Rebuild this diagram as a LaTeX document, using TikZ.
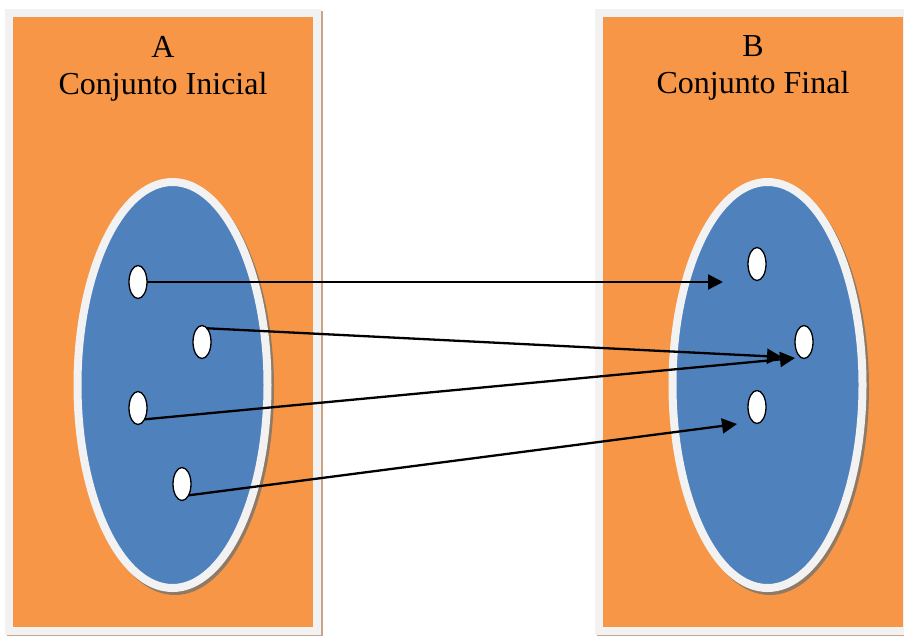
\documentclass[tikz,border=0pt]{standalone}
\usepackage{fontspec}
\setmainfont{Liberation Serif}
\usetikzlibrary{shapes.geometric,arrows.meta,positioning}
\definecolor{setorange}{HTML}{F79646}
\definecolor{setblue}{HTML}{4F81BD}
\definecolor{framegray}{HTML}{F2F2F2}
\definecolor{rectshadow}{HTML}{C9A487}
\definecolor{ovalshadow}{HTML}{8F7A66}

\begin{document}
\begin{tikzpicture}[x=1pt,y=-1pt]
        \tikzstyle{every node}=[inner sep=0pt,outer sep=0pt]
        \tikzstyle{setbox}=[draw=framegray,fill=setorange,line width=8pt,minimum width=308pt,minimum height=618pt]
        \tikzstyle{oval}=[ellipse,draw=framegray,fill=setblue,line width=8pt,minimum width=190pt,minimum height=406pt]
        \tikzstyle{dot}=[ellipse,draw=black,fill=white,line width=1.3pt,minimum width=18pt,minimum height=33pt]
        \tikzstyle{title}=[align=center,font=\fontsize{32}{37}\selectfont]
        \tikzstyle{maps}=[line width=2.3pt,-{Triangle[length=15pt,width=15pt]}]
        \clip (0,0) rectangle (904,635);
        \fill[white] (0,0) rectangle (904,635);

        % shadows
        \node[fill=rectshadow,minimum width=316pt,minimum height=626pt] (shadowA) at (165,324) {};
        \node[fill=rectshadow,minimum width=316pt,minimum height=626pt] (shadowB) at (755,324) {};

        % set A
        \node[setbox] (setA) at (163,322) {};
        \node[title, below=23pt of setA.north] (titleA) {A\\Conjunto Inicial};
        \node[ellipse,fill=ovalshadow,minimum width=198pt,minimum height=414pt] (ovalshadowA) at (175,388) {};
        \node[oval] (ovalA) at (172.5,385) {};
        \node[dot] (a1) at (138,282) {};
        \node[dot] (a2) at (202,342) {};
        \node[dot] (a3) at (138,408) {};
        \node[dot] (a4) at (182,484) {};

        % set B
        \node[setbox] (setB) at (753,322) {};
        \node[title, below=23pt of setB.north] (titleB) {B\\Conjunto Final};
        \node[ellipse,fill=ovalshadow,minimum width=198pt,minimum height=414pt] (ovalshadowB) at (770,388) {};
        \node[oval] (ovalB) at (767.5,385) {};
        \node[dot] (b1) at (757,264) {};
        \node[dot] (b2) at (804,342) {};
        \node[dot] (b3) at (757,407) {};

        % mapping
        \coordinate (t1) at (723,282);
        \coordinate (t2) at (782,357);
        \coordinate (t3) at (795,358);
        \coordinate (t4) at (737,424);
        \draw[maps] (a1.east) -- (t1);
        \draw[maps] (a2.70) -- (t2);
        \draw[maps] (a3.-60) -- (t3);
        \draw[maps] (a4.-60) -- (t4);

    \end{tikzpicture}
\end{document}
